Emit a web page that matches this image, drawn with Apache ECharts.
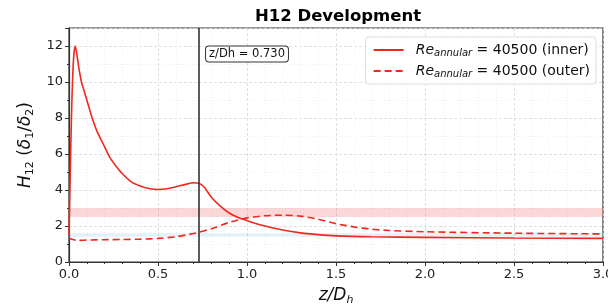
<!DOCTYPE html>
<html>
<head>
<meta charset="utf-8">
<script src="https://cdn.jsdelivr.net/npm/echarts@6/dist/echarts.min.js"></script>
<style>
  html, body { margin: 0; padding: 0; background: #fff; }
  #chart { width: 608px; height: 307px; }
</style>
</head>
<body>
<div id="chart"></div>
<script>
// inner wall H12 along z/Dh
const zInner = [0, 0.005, 0.015, 0.025, 0.035, 0.045, 0.055, 0.07, 0.085, 0.1, 0.13, 0.16, 0.2, 0.23, 0.27, 0.3, 0.35, 0.4, 0.45, 0.5, 0.55, 0.6, 0.65, 0.7, 0.73, 0.76, 0.8, 0.85, 0.9, 0.95, 1.0, 1.1, 1.2, 1.3, 1.4, 1.5, 1.7, 2.0, 2.5, 3.0]
const hInner = [1.5, 4.0, 8.5, 11.2, 12.0, 11.5, 10.8, 10.0, 9.5, 9.0, 8.0, 7.2, 6.4, 5.8, 5.25, 4.9, 4.45, 4.22, 4.08, 4.03, 4.07, 4.18, 4.3, 4.4, 4.38, 4.15, 3.6, 3.1, 2.72, 2.47, 2.3, 2.0, 1.78, 1.62, 1.52, 1.45, 1.4, 1.37, 1.33, 1.31]

// outer wall
const zOuter = [0, 0.02, 0.05, 0.1, 0.2, 0.3, 0.4, 0.5, 0.6, 0.7, 0.73, 0.8, 0.9, 1.0, 1.1, 1.2, 1.3, 1.4, 1.5, 1.6, 1.7, 1.8, 2.0, 2.5, 3.0]
const hOuter = [1.33, 1.25, 1.2, 1.22, 1.24, 1.25, 1.27, 1.31, 1.4, 1.58, 1.65, 1.85, 2.2, 2.45, 2.57, 2.6, 2.55, 2.38, 2.13, 1.95, 1.82, 1.75, 1.68, 1.6, 1.56]

const zMarker = 0.73
const pinkBand = [2.5, 3.0]
const blueBand = [1.4, 1.6]
const xTicks = ['0.0', '0.5', '1.0', '1.5', '2.0', '2.5', '3.0']

const pairs = (xs, ys) => xs.map((x, i) => [x, ys[i]])

const chart = echarts.init(document.getElementById('chart'), null, { renderer: 'canvas' })

const legendRich = {
  g: { width: 7 },
  i: { fontStyle: 'italic', fontSize: 14, fontFamily: 'DejaVu Sans', color: '#111' },
  s: { fontStyle: 'italic', fontSize: 10, fontFamily: 'DejaVu Sans', color: '#111', padding: [6, 0, 0, 0] },
  n: { fontSize: 14, fontFamily: 'DejaVu Sans', color: '#111' }
}

chart.setOption({
  animation: false,
  backgroundColor: '#fff',
  title: {
    text: 'H12 Development',
    left: 333,
    textAlign: 'center',
    top: 3,
    textStyle: { fontFamily: 'DejaVu Sans', fontWeight: 'bold', fontSize: 16.5, color: '#000' }
  },
  grid: {
    left: 69,
    right: 5,
    top: 28,
    bottom: 45,
    containLabel: false,
    outerBoundsMode: 'none',
    show: true,
    borderColor: '#333',
    borderWidth: 1.2,
    backgroundColor: 'transparent'
  },
  legend: {
    right: 12,
    top: 37,
    orient: 'vertical',
    itemWidth: 30,
    itemHeight: 12,
    itemGap: 6,
    backgroundColor: '#fff',
    borderColor: '#ddd',
    borderWidth: 1,
    borderRadius: 3,
    padding: [6, 6, 5, 7],
    itemStyle: { color: 'transparent', borderWidth: 0 },
    textStyle: { rich: legendRich },
    formatter: name => name === 'inner'
      ? '{g|}{i|Re}{s|annular}{n| = 40500 (inner)}'
      : '{g|}{i|Re}{s|annular}{n| = 40500 (outer)}',
    data: ['inner', 'outer']
  },
  xAxis: {
    type: 'value',
    min: 0,
    max: 3,
    interval: 0.5,
    name: '{i|z/D}{s|h}',
    nameLocation: 'middle',
    nameGap: 24,
    nameTextStyle: {
      rich: {
        i: { fontStyle: 'italic', fontSize: 17, fontFamily: 'DejaVu Sans', color: '#111' },
        s: { fontStyle: 'italic', fontSize: 11, fontFamily: 'DejaVu Sans', color: '#111', padding: [9, 0, 0, 0] }
      }
    },
    axisLine: { show: true, onZero: false, lineStyle: { color: '#333', width: 1.2 } },
    axisTick: { show: true, length: 4, lineStyle: { color: '#333' } },
    minorTick: { show: true, splitNumber: 5, length: 2, lineStyle: { color: '#333' } },
    axisLabel: {
      fontFamily: 'DejaVu Sans', fontSize: 13, color: '#222', margin: 6,
      formatter: v => xTicks[Math.round(v / 0.5)]
    },
    splitLine: { show: true, lineStyle: { color: '#d8d8d8', type: [3, 2], width: 0.8 } },
    minorSplitLine: { show: true, lineStyle: { color: '#ececec', type: [1, 2], width: 0.8 } }
  },
  yAxis: {
    type: 'value',
    min: 0,
    max: 13,
    interval: 2,
    name: '{i|H}{s|12}{n| (}{i|δ}{s|1}{n|/}{i|δ}{s|2}{n|)}',
    nameLocation: 'middle',
    nameGap: 27,
    nameTextStyle: {
      rich: {
        i: { fontStyle: 'italic', fontSize: 17, fontFamily: 'DejaVu Sans', color: '#111' },
        s: { fontSize: 11, fontFamily: 'DejaVu Sans', color: '#111', padding: [9, 0, 0, 0] },
        n: { fontSize: 17, fontFamily: 'DejaVu Sans', color: '#111' }
      }
    },
    axisLine: { show: true, lineStyle: { color: '#333', width: 1.2 } },
    axisTick: { show: true, length: 4, lineStyle: { color: '#333' } },
    minorTick: { show: true, splitNumber: 2, length: 2, lineStyle: { color: '#333' } },
    axisLabel: { fontFamily: 'DejaVu Sans', fontSize: 13, color: '#222', margin: 6, showMaxLabel: false },
    splitLine: { show: true, lineStyle: { color: '#d8d8d8', type: [3, 2], width: 0.8 } },
    minorSplitLine: { show: true, lineStyle: { color: '#ececec', type: [1, 2], width: 0.8 } }
  },
  series: [
    {
      name: 'inner',
      type: 'line',
      showSymbol: false,
      symbol: 'none',
      smooth: 0.25,
      lineStyle: { color: '#f0281e', width: 1.6 },
      itemStyle: { color: '#f0281e' },
      data: pairs(zInner, hInner),
      markArea: {
        silent: true,
        data: [
          [{ yAxis: pinkBand[0], itemStyle: { color: 'rgba(245,110,110,0.28)' } }, { yAxis: pinkBand[1] }],
          [{ yAxis: blueBand[0], itemStyle: { color: 'rgba(150,200,225,0.25)' } }, { yAxis: blueBand[1] }]
        ]
      },
      markLine: {
        silent: true,
        symbol: 'none',
        label: { show: false },
        lineStyle: { color: '#333', width: 1.6, type: 'solid' },
        data: [{ xAxis: zMarker }]
      },
      markPoint: {
        silent: true,
        symbol: 'circle',
        symbolSize: 0,
        label: {
          show: true,
          formatter: 'z/Dh = ' + zMarker.toFixed(3),
          fontFamily: 'DejaVu Sans',
          fontSize: 11.5,
          color: '#111',
          backgroundColor: '#fff',
          borderColor: '#333',
          borderWidth: 1,
          borderRadius: 3,
          padding: [2, 3, 1, 3]
        },
        data: [{ coord: [1.0, 11.55] }]
      }
    },
    {
      name: 'outer',
      type: 'line',
      showSymbol: false,
      symbol: 'none',
      smooth: 0.25,
      lineStyle: { color: '#f0281e', width: 1.6, type: [7, 4] },
      itemStyle: { color: '#f0281e' },
      data: pairs(zOuter, hOuter)
    }
  ]
})
</script>
</body>
</html>
